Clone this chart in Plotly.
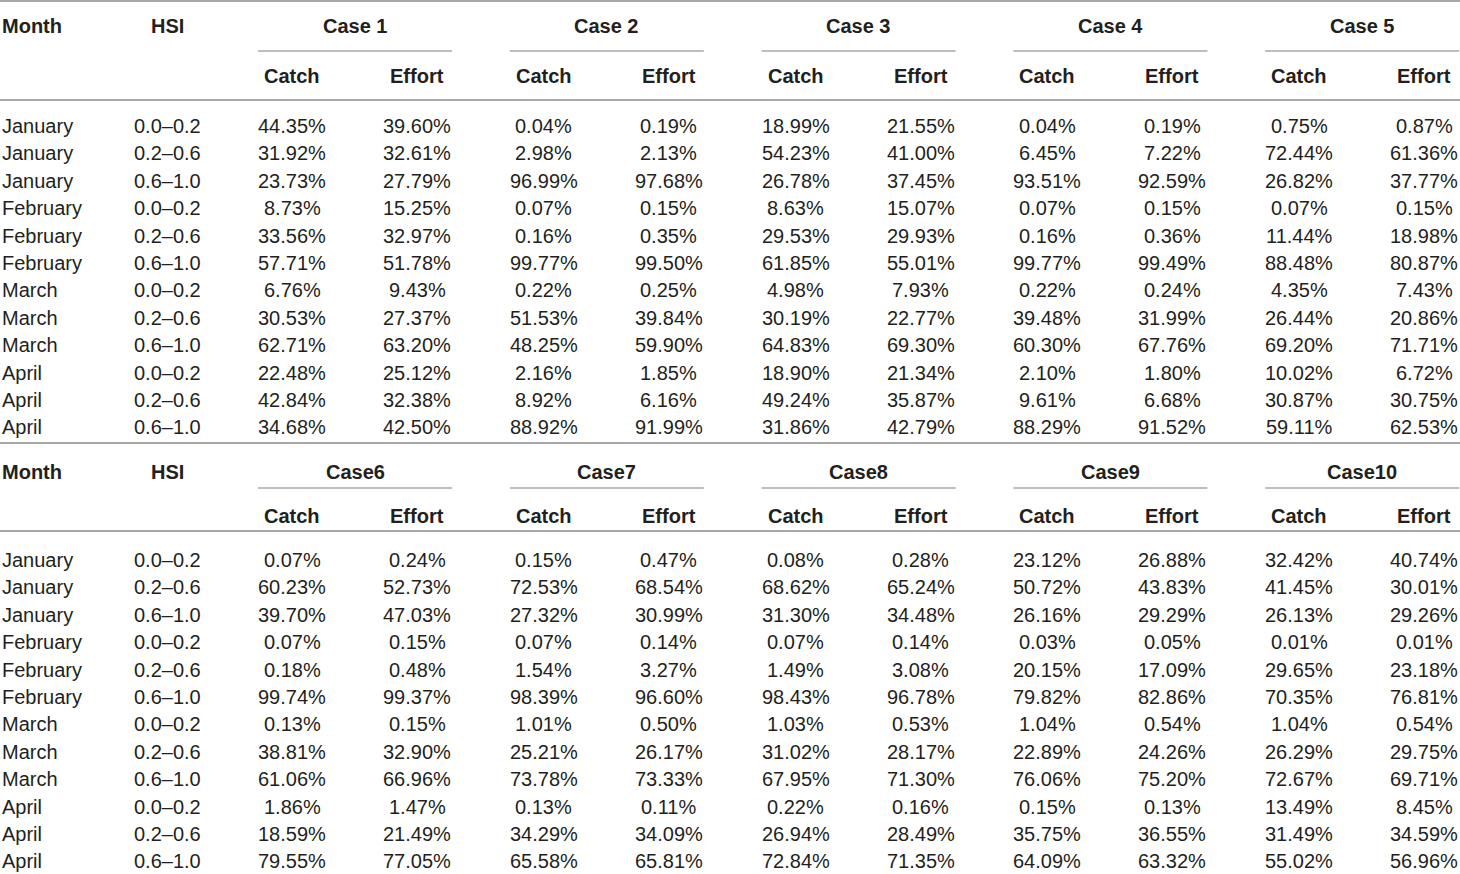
import plotly.graph_objects as go

# row labels
months = ["January"] * 3 + ["February"] * 3 + ["March"] * 3 + ["April"] * 3
hsi = ["0.0–0.2", "0.2–0.6", "0.6–1.0"] * 4
case_names = ["Case 1", "Case 2", "Case 3", "Case 4", "Case 5",
              "Case6", "Case7", "Case8", "Case9", "Case10"]

# percentages, one list per case and measure
case1_catch = [44.35, 31.92, 23.73, 8.73, 33.56, 57.71, 6.76, 30.53, 62.71, 22.48, 42.84, 34.68]
case1_effort = [39.60, 32.61, 27.79, 15.25, 32.97, 51.78, 9.43, 27.37, 63.20, 25.12, 32.38, 42.50]
case2_catch = [0.04, 2.98, 96.99, 0.07, 0.16, 99.77, 0.22, 51.53, 48.25, 2.16, 8.92, 88.92]
case2_effort = [0.19, 2.13, 97.68, 0.15, 0.35, 99.50, 0.25, 39.84, 59.90, 1.85, 6.16, 91.99]
case3_catch = [18.99, 54.23, 26.78, 8.63, 29.53, 61.85, 4.98, 30.19, 64.83, 18.90, 49.24, 31.86]
case3_effort = [21.55, 41.00, 37.45, 15.07, 29.93, 55.01, 7.93, 22.77, 69.30, 21.34, 35.87, 42.79]
case4_catch = [0.04, 6.45, 93.51, 0.07, 0.16, 99.77, 0.22, 39.48, 60.30, 2.10, 9.61, 88.29]
case4_effort = [0.19, 7.22, 92.59, 0.15, 0.36, 99.49, 0.24, 31.99, 67.76, 1.80, 6.68, 91.52]
case5_catch = [0.75, 72.44, 26.82, 0.07, 11.44, 88.48, 4.35, 26.44, 69.20, 10.02, 30.87, 59.11]
case5_effort = [0.87, 61.36, 37.77, 0.15, 18.98, 80.87, 7.43, 20.86, 71.71, 6.72, 30.75, 62.53]
case6_catch = [0.07, 60.23, 39.70, 0.07, 0.18, 99.74, 0.13, 38.81, 61.06, 1.86, 18.59, 79.55]
case6_effort = [0.24, 52.73, 47.03, 0.15, 0.48, 99.37, 0.15, 32.90, 66.96, 1.47, 21.49, 77.05]
case7_catch = [0.15, 72.53, 27.32, 0.07, 1.54, 98.39, 1.01, 25.21, 73.78, 0.13, 34.29, 65.58]
case7_effort = [0.47, 68.54, 30.99, 0.14, 3.27, 96.60, 0.50, 26.17, 73.33, 0.11, 34.09, 65.81]
case8_catch = [0.08, 68.62, 31.30, 0.07, 1.49, 98.43, 1.03, 31.02, 67.95, 0.22, 26.94, 72.84]
case8_effort = [0.28, 65.24, 34.48, 0.14, 3.08, 96.78, 0.53, 28.17, 71.30, 0.16, 28.49, 71.35]
case9_catch = [23.12, 50.72, 26.16, 0.03, 20.15, 79.82, 1.04, 22.89, 76.06, 0.15, 35.75, 64.09]
case9_effort = [26.88, 43.83, 29.29, 0.05, 17.09, 82.86, 0.54, 24.26, 75.20, 0.13, 36.55, 63.32]
case10_catch = [32.42, 41.45, 26.13, 0.01, 29.65, 70.35, 1.04, 26.29, 72.67, 13.49, 31.49, 55.02]
case10_effort = [40.74, 30.01, 29.26, 0.01, 23.18, 76.81, 0.54, 29.75, 69.71, 8.45, 34.59, 56.96]

catches = [case1_catch, case2_catch, case3_catch, case4_catch, case5_catch,
           case6_catch, case7_catch, case8_catch, case9_catch, case10_catch]
efforts = [case1_effort, case2_effort, case3_effort, case4_effort, case5_effort,
           case6_effort, case7_effort, case8_effort, case9_effort, case10_effort]

W, H = 1460, 874
TXT = "#231f20"
RULE = "#a8a8a8"
FONT = "Liberation Sans"
FS = 20

# layout of the two stacked blocks
blocks = [
    dict(head=26, case_line=51, sub=76, line=100, row0=126),
    dict(head=472, case_line=488, sub=516, line=531, row0=560),
]
row_h = 27.4
col_step = 251.8

annotations = []
shapes = []


def text(x, y, s, bold=False, anchor="center"):
    annotations.append(dict(
        x=x, y=y, xref="x", yref="y", text=f"<b>{s}</b>" if bold else s,
        showarrow=False, xanchor=anchor, yanchor="middle",
        font=dict(family=FONT, size=FS, color=TXT)))


def rule(x0, x1, y, w=2):
    shapes.append(dict(type="line", xref="x", yref="y", x0=x0, x1=x1, y0=y, y1=y,
                       line=dict(color=RULE, width=w)))


rule(0, W, 1)
rule(0, W, 443)

for b, blk in enumerate(blocks):
    text(0, blk["head"], "Month", bold=True, anchor="left")
    text(167, blk["head"], "HSI", bold=True)
    rule(0, W, blk["line"])
    for k in range(5):
        c = b * 5 + k
        off = k * col_step
        text(355 + off, blk["head"], case_names[c], bold=True)
        rule(258 + off, 452 + off, blk["case_line"], w=1.5)
        text(292 + off, blk["sub"], "Catch", bold=True)
        text(417 + off, blk["sub"], "Effort", bold=True)
        for i in range(len(months)):
            y = blk["row0"] + i * row_h
            text(292 + off, y, f"{catches[c][i]:.2f}%")
            text(417 + off, y, f"{efforts[c][i]:.2f}%")
    for i in range(len(months)):
        y = blk["row0"] + i * row_h
        text(0, y, months[i], anchor="left")
        text(167, y, hsi[i])

fig = go.Figure()
fig.update_layout(
    width=W, height=H,
    margin=dict(l=0, r=0, t=0, b=0),
    paper_bgcolor="white", plot_bgcolor="white",
    xaxis=dict(range=[0, W], visible=False, fixedrange=True),
    yaxis=dict(range=[H, 0], visible=False, fixedrange=True),
    annotations=annotations,
    shapes=shapes,
    showlegend=False,
)

# drop the page margin so the table fills the window
fig.write_html("out.html", config={"displayModeBar": False},
               post_script="document.body.style.margin='0';document.body.style.overflow='hidden';")
